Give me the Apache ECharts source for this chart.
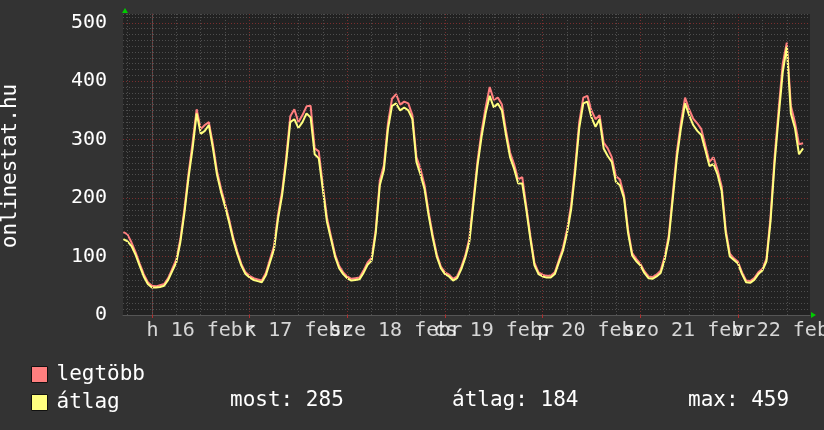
<!DOCTYPE html>
<html><head><meta charset="utf-8">
<script src="https://cdn.jsdelivr.net/npm/echarts@6/dist/echarts.min.js"></script>
<style>html,body{margin:0;padding:0;background:#333333;} #c{width:824px;height:430px;}</style>
</head><body><div id="c"></div>
<script>
// hours relative to 16 Feb 00:00, one sample per hour
const startHour = -7;
const stepHours = 1;
const avgValues = [
 130,126,118,103,84,66,53,
 47,47,48,50,60,75,90,125,175,235,285,345,310,315,325,285,240,210,185,158,128,104,84,70,
 64,60,58,56,68,90,112,165,205,262,330,335,320,330,345,338,275,268,215,160,130,100,80,70,
 63,59,60,61,72,86,93,140,222,248,318,358,362,350,355,350,335,262,240,215,170,132,100,80,
 70,66,59,63,78,98,125,190,255,305,345,375,355,362,350,308,270,250,225,225,180,130,85,70,
 66,64,64,70,90,110,140,180,245,320,362,365,338,322,335,285,272,262,228,222,200,140,102,92,
 85,72,63,62,66,72,95,130,200,270,320,362,342,325,315,308,282,255,258,240,212,140,100,94,
 88,70,56,55,60,70,76,92,160,260,340,415,459,345,320,275,285
];
const maxValues = [
 142,138,124,107,88,70,56,
 50,49,51,53,63,79,95,130,182,242,295,352,318,325,330,292,246,216,190,163,132,108,87,73,
 67,63,61,59,72,95,118,172,212,270,340,352,330,342,357,358,285,280,222,167,135,104,84,73,
 66,62,63,64,76,90,98,146,230,256,328,370,378,360,365,362,342,270,250,222,176,137,104,83,
 73,69,62,66,82,102,131,197,263,314,355,390,368,372,360,316,278,258,232,236,186,135,89,73,
 69,67,67,73,94,115,146,188,254,330,372,375,350,335,342,295,285,270,238,232,205,146,106,96,
 88,75,66,65,69,76,100,136,208,280,330,372,352,336,328,318,290,262,270,248,220,146,105,97,
 91,73,59,58,63,73,79,96,168,270,352,430,466,358,330,292,294
];
const yTickLabels = [0, 100, 200, 300, 400, 500];
const dayLabelHours = [12, 36, 60, 84, 108, 132, 156];
const dayLabels = ['h 16 febr', 'k 17 febr', 'sze 18 febr', 'cs 19 febr', 'p 20 febr', 'szo 21 febr', 'v 22 febr'];
const majorGridHours = [0, 24, 48, 72, 96, 120, 144];
const minorGridHours = [-6, 6, 12, 18, 30, 36, 42, 54, 60, 66, 78, 84, 90, 102, 108, 114, 126, 132, 138, 150, 156];
const seriesNames = ['legtöbb', 'átlag'];
const statMost = 285, statAvg = 184, statMax = 459;

const toPairs = vals => vals.map((v, i) => [startHour + i * stepHours, v]);
const FONT = '"DejaVu Sans Mono", monospace';
const RED = '#ff7f7f', YEL = '#ffff7f';
const MAJOR = '#7a2e2e', MINOR = '#4e4e4e';
const yGridColors = [MAJOR, MINOR, MINOR, MINOR, MINOR, MINOR, MINOR, MINOR, MINOR, MINOR];

const chart = echarts.init(document.getElementById('c'), null, {renderer: 'canvas'});
chart.setOption({
  animation: false,
  backgroundColor: '#333333',
  grid: {left: 123, right: 14, top: 14, bottom: 115, show: true, backgroundColor: '#222222', borderWidth: 0,
         containLabel: false, outerBoundsMode: 'none'},
  xAxis: {
    type: 'value', min: -7.1, max: 161.7,
    axisLine: {show: true, lineStyle: {color: '#555555', width: 1}},
    axisTick: {show: true, customValues: majorGridHours, length: 3, inside: false, lineStyle: {color: '#b03030'}},
    splitLine: {show: false},
    axisLabel: {show: false}
  },
  yAxis: {
    type: 'value', min: 0, max: 515, interval: 10,
    axisLine: {show: true, lineStyle: {color: '#555555', width: 1}},
    axisTick: {show: false},
    splitLine: {show: true, lineStyle: {color: yGridColors, width: 1, type: [1, 2]}},
    axisLabel: {
      margin: 16, color: '#ffffff', fontFamily: FONT, fontSize: 20,
      formatter: v => yTickLabels.includes(v) ? String(v) : ''
    }
  },
  legend: {
    orient: 'vertical', left: 31, top: 364, padding: 0, selectedMode: false,
    icon: 'rect', itemWidth: 16, itemHeight: 16, itemGap: 7,
    itemStyle: {borderColor: '#111111', borderWidth: 1},
    textStyle: {color: '#ffffff', fontFamily: FONT, fontSize: 21, lineHeight: 21, padding: [0, 0, 0, 4]},
    data: seriesNames
  },
  series: [
    {
      type: 'line', name: '_grid', data: [], z: 1, silent: true,
      markLine: {
        silent: true, symbol: ['none', 'none'], label: {show: false}, animation: false,
        lineStyle: {color: MINOR, width: 1, type: [1, 2]},
        data: minorGridHours.map(h => ({xAxis: h, lineStyle: {color: MINOR, width: 1, type: [1, 2]}}))
          .concat(majorGridHours.map(h => ({xAxis: h, lineStyle: {color: MAJOR, width: 1, type: [1, 2]}})))
      }
    },
    {
      type: 'line', name: seriesNames[0], data: toPairs(maxValues), z: 3,
      showSymbol: false, symbol: 'none', color: RED,
      itemStyle: {color: RED}, lineStyle: {color: RED, width: 2}
    },
    {
      type: 'line', name: seriesNames[1], data: toPairs(avgValues), z: 4,
      showSymbol: false, symbol: 'none', color: YEL,
      itemStyle: {color: YEL}, lineStyle: {color: YEL, width: 2}
    },
    {
      type: 'scatter', name: '_daylabels', silent: true, z: 5, clip: false,
      symbol: 'circle', symbolSize: 0,
      data: dayLabelHours.map(h => [h, 0]),
      labelLayout: {hideOverlap: false},
      label: {
        show: true, position: 'bottom', distance: 6,
        color: '#ffffff', fontFamily: FONT, fontSize: 20,
        formatter: p => dayLabels[p.dataIndex]
      }
    }
  ],
  graphic: [
    {type: 'text', x: 11, y: 166, rotation: Math.PI / 2,
     style: {text: 'onlinestat.hu', fill: '#ffffff', font: '21px ' + FONT, align: 'center', verticalAlign: 'middle'}},
    {type: 'polygon', shape: {points: [[122, 13], [125, 8], [128, 13]]}, style: {fill: '#00cc00'}},
    {type: 'polygon', shape: {points: [[811, 312], [816, 315], [811, 318]]}, style: {fill: '#00cc00'}},
    {type: 'text', x: 230, y: 401, style: {text: 'most: ' + statMost, fill: '#ffffff', font: '21px ' + FONT, verticalAlign: 'middle'}},
    {type: 'text', x: 452, y: 401, style: {text: 'átlag: ' + statAvg, fill: '#ffffff', font: '21px ' + FONT, verticalAlign: 'middle'}},
    {type: 'text', x: 688, y: 401, style: {text: 'max: ' + statMax, fill: '#ffffff', font: '21px ' + FONT, verticalAlign: 'middle'}}
  ]
});
</script>
</body></html>
